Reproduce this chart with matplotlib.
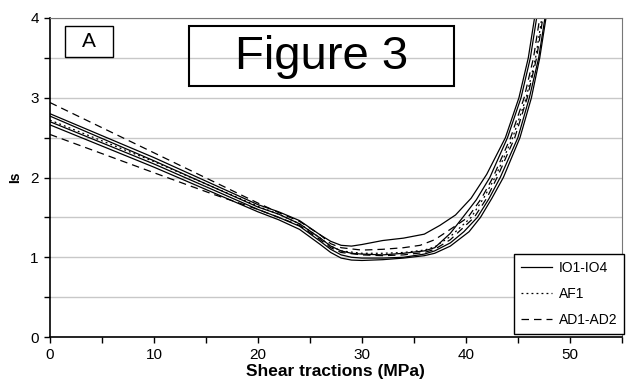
import matplotlib
matplotlib.use("Agg")
import matplotlib.pyplot as plt
from matplotlib.patches import Rectangle

plt.rcParams['font.family'] = ['Liberation Sans', 'DejaVu Sans']

# IO1-IO4 (solid)
io1_x = [0, 10, 20, 22, 24, 26, 27, 28, 29, 30, 32, 34, 36, 37.5, 39, 40.5, 42, 43.8, 45.1, 46, 46.6]
io1_y = [2.80, 2.25, 1.66, 1.57, 1.46, 1.28, 1.20, 1.15, 1.14, 1.16, 1.21, 1.24, 1.29, 1.40, 1.53, 1.74, 2.04, 2.5, 3.0, 3.5, 4.0]
io2_x = [0, 10, 20, 22, 24, 26, 27, 28, 29, 30, 32, 34, 36, 37, 38.5, 39.7, 41, 42.3, 44.0, 45.3, 46.2, 46.8]
io2_y = [2.77, 2.21, 1.63, 1.54, 1.42, 1.24, 1.14, 1.08, 1.05, 1.04, 1.03, 1.05, 1.08, 1.12, 1.30, 1.50, 1.72, 2.0, 2.5, 3.0, 3.5, 4.0]
io3_x = [0, 10, 20, 22, 24, 26, 27, 28, 29, 30, 32, 34, 36, 37, 38.5, 39.8, 41.1, 42.2, 43.3, 45.0, 46.1, 47.0, 47.6]
io3_y = [2.70, 2.17, 1.60, 1.50, 1.39, 1.20, 1.10, 1.03, 1.00, 0.99, 0.99, 1.00, 1.04, 1.08, 1.18, 1.32, 1.50, 1.73, 2.0, 2.5, 3.0, 3.5, 4.0]
io4_x = [0, 10, 20, 22, 24, 26, 27, 28, 29, 30, 32, 34, 36, 37, 38.5, 40.3, 41.4, 42.5, 43.6, 45.2, 46.3, 47.1, 47.7]
io4_y = [2.66, 2.13, 1.57, 1.47, 1.35, 1.16, 1.06, 0.99, 0.965, 0.96, 0.97, 0.99, 1.02, 1.05, 1.14, 1.32, 1.50, 1.74, 2.0, 2.5, 3.0, 3.5, 4.0]

# AF1 (dotted)
af1_x = [0, 10, 20, 22, 24, 26, 27, 28, 30, 32, 34, 36, 37, 38.5, 40.5, 41.7, 42.8, 44.5, 45.8, 46.7, 47.3]
af1_y = [2.72, 2.20, 1.64, 1.54, 1.42, 1.24, 1.14, 1.08, 1.05, 1.05, 1.06, 1.09, 1.13, 1.26, 1.50, 1.74, 2.0, 2.5, 3.0, 3.5, 4.0]

# AD1-AD2 (dashed)
ad1_x = [0, 10, 17.3, 20, 22, 24, 26, 27, 28, 30, 32, 34, 35.6, 37, 38.5, 40.2, 41.5, 42.6, 44.3, 45.6, 46.5, 47.1]
ad1_y = [2.94, 2.31, 1.85, 1.68, 1.56, 1.45, 1.28, 1.17, 1.12, 1.09, 1.10, 1.12, 1.15, 1.22, 1.35, 1.50, 1.74, 2.0, 2.5, 3.0, 3.5, 4.0]
ad2_x = [0, 10, 15.7, 20, 22, 24, 26, 27, 28, 30, 32, 34, 36, 37, 38.5, 40.8, 42.0, 43.0, 44.7, 45.9, 46.8, 47.4]
ad2_y = [2.54, 2.06, 1.79, 1.60, 1.50, 1.40, 1.22, 1.12, 1.06, 1.03, 1.02, 1.03, 1.06, 1.10, 1.22, 1.50, 1.74, 2.0, 2.5, 3.0, 3.5, 4.0]

fig = plt.figure(figsize=(6.32, 3.91), dpi=100)
ax = fig.add_axes([0.079, 0.138, 0.905, 0.816])

lw = 0.9
ax.plot(io1_x, io1_y, color='black', lw=lw, label='IO1-IO4')
for xs, ys in [(io2_x, io2_y), (io3_x, io3_y), (io4_x, io4_y)]:
    ax.plot(xs, ys, color='black', lw=lw)
ax.plot(af1_x, af1_y, color='black', lw=lw, linestyle=(0, (1.5, 2.5)), label='AF1')
ax.plot(ad1_x, ad1_y, color='black', lw=lw, linestyle=(0, (6, 4)), label='AD1-AD2')
ax.plot(ad2_x, ad2_y, color='black', lw=lw, linestyle=(0, (6, 4)))

ax.set_xlim(0, 55)
ax.set_ylim(0, 4)
ax.set_xticks(range(0, 51, 10))
ax.set_xticks(range(5, 56, 10), minor=True)
ax.set_yticks(range(0, 5))
ax.set_yticks([0.5, 1.5, 2.5, 3.5], minor=True)
ax.tick_params(which='both', direction='out', length=4, width=1, labelsize=11, pad=4)
ax.grid(True, which='both', axis='y', color='#c8c8c8', lw=1)
ax.set_axisbelow(True)

for s in ['top', 'right']:
    ax.spines[s].set_color('#777777')
for s in ['left', 'bottom']:
    ax.spines[s].set_color('black')
    ax.spines[s].set_linewidth(1.2)

ax.set_xlabel('Shear tractions (MPa)', fontsize=12.5, fontweight='bold', labelpad=1)
ax.set_ylabel('Is', fontsize=10, fontweight='bold', labelpad=6)

# label boxes
ax.add_patch(Rectangle((0.026, 0.878), 0.084, 0.097, transform=ax.transAxes,
                       fill=False, edgecolor='black', lw=1, zorder=5))
ax.text(0.068, 0.926, 'A', transform=ax.transAxes, fontsize=15, ha='center', va='center')
ax.add_patch(Rectangle((0.243, 0.787), 0.463, 0.188, transform=ax.transAxes,
                       fill=False, edgecolor='black', lw=1.5, zorder=5))
ax.text(0.4745, 0.877, 'Figure 3', transform=ax.transAxes, fontsize=34, ha='center', va='center')

leg = ax.legend(loc='lower right', bbox_to_anchor=(1.004, 0.01), fontsize=10,
                frameon=True, fancybox=False, edgecolor='black', framealpha=1,
                handlelength=2.2, handletextpad=0.5, labelspacing=0.85, borderpad=0.5,
                borderaxespad=0)
leg.get_frame().set_linewidth(1)

fig.savefig('out.png', dpi=100)
